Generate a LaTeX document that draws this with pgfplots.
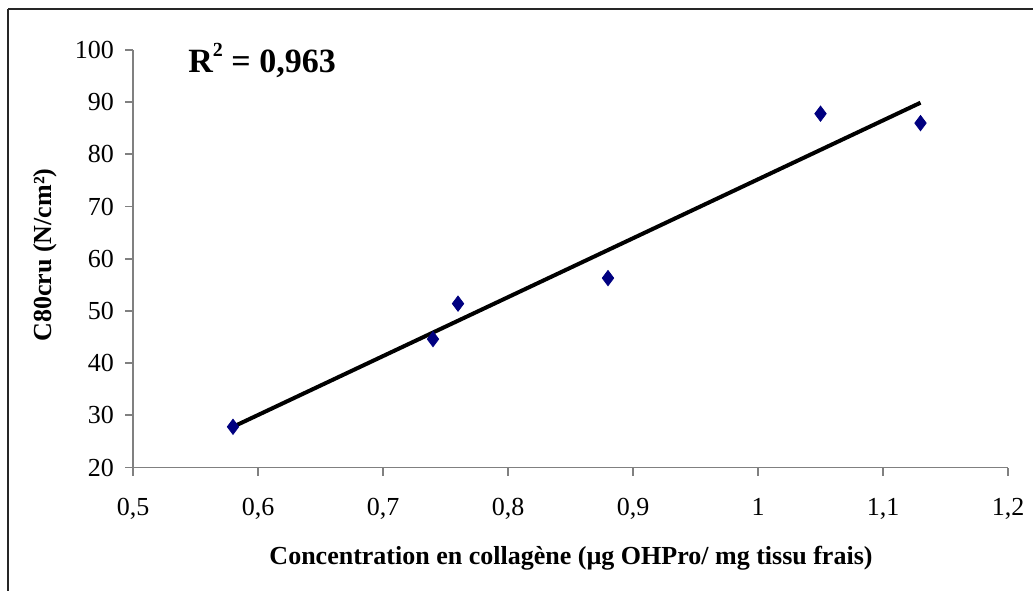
\documentclass[border=0pt]{standalone}
\usepackage{fontspec}
\setmainfont{Liberation Serif}
\usepackage{pgfplots}
\pgfplotsset{compat=1.18}
\definecolor{navyc}{HTML}{000080}
\definecolor{axgray}{HTML}{808080}
\begin{document}
\begin{tikzpicture}
\useasboundingbox (0,0) rectangle (516.5pt,-295pt);
\draw[line width=1pt,black!85] (4pt,-4.5pt) -- (525pt,-4.5pt);
\draw[line width=1pt,black!85] (4pt,-4.5pt) -- (4pt,-300pt);
\begin{axis}[
  at={(66.5pt,-233.75pt)}, anchor=south west,
  scale only axis, width=437.5pt, height=208.75pt,
  xmin=0.5, xmax=1.2, ymin=20, ymax=100,
  axis lines=left, axis line style={-, axgray, line width=0.9pt},
  xtick={0.5,0.6,0.7,0.8,0.9,1,1.1,1.2},
  ytick={20,30,40,50,60,70,80,90,100},
  tick style={axgray, line width=0.9pt},
  tick align=outside, major tick length=4pt,
  /pgf/number format/use comma,
  /pgf/number format/assume math mode=true,
  ticklabel style={font=\fontsize{13}{15}\selectfont, black},
  xticklabel style={yshift=-8pt},
  yticklabel style={xshift=-2pt},
  clip=false,
]
\addplot[only marks, mark=diamond*, mark size=3.8pt, mark options={fill=navyc, draw=navyc}]
  coordinates {(0.58,27.8) (0.74,44.6) (0.76,51.4) (0.88,56.3) (1.05,87.8) (1.13,86.0)};
\addplot[black, line width=2pt] coordinates {(0.58,27.8) (1.13,89.9)};
\end{axis}
\node[font=\bfseries\fontsize{17}{20}\selectfont, anchor=base west, inner sep=0] at (94pt,-36pt) {R\raisebox{0.45em}{\fontsize{10}{12}\selectfont 2} = 0,963};
\node[font=\bfseries\fontsize{13}{15}\selectfont, rotate=90] at (22.5pt,-127.5pt) {C80cru (N/cm²)};
\node[font=\bfseries\fontsize{13}{15}\selectfont] at (285.5pt,-279pt) {Concentration en collagène (µg OHPro/ mg tissu frais)};
\end{tikzpicture}
\end{document}
